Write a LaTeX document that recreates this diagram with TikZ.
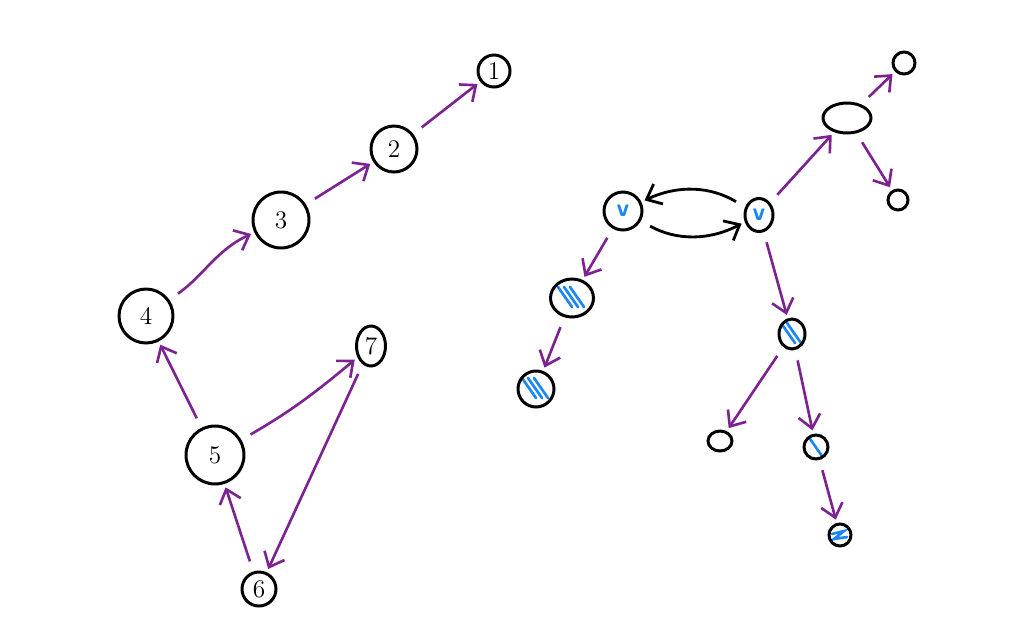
\documentclass[tikz,border=0pt]{standalone}
\usepackage{xcolor}
\usepackage{tikz}
\usetikzlibrary{positioning,arrows.meta,shapes.geometric}

\definecolor{inkpurple}{RGB}{125,35,145}
\definecolor{inkblue}{RGB}{25,135,245}

\begin{document}
\begin{tikzpicture}[
  x=0.02cm, y=-0.02cm,
  vertex/.style={circle, draw=black, line width=1.7pt, inner sep=0pt, font=\Large},
  oval/.style={vertex, ellipse},
  vlabel/.style={text=inkblue, font=\Large\bfseries\sffamily},
  hatched/.style={path picture={
      \foreach \d in {#1} {
        \draw[inkblue, line width=1.5pt, line cap=round]
          ([shift={(\d-8,-11)}]path picture bounding box.center) -- ++(14,20);
      }}},
  scribble/.style={path picture={
      \draw[inkblue, line width=1.5pt, line cap=round]
        ([shift={(-8,-1)}]path picture bounding box.center) -- ++(12,-3)
        -- ++(-10,8) -- ++(13,-2);}},
  edge/.style={-{Straight Barb[length=2.6mm, width=4.4mm]}, inkpurple,
    line width=1.5pt, shorten >=2pt, shorten <=6pt},
  link/.style={edge, draw=black, line width=1.6pt},
]
\useasboundingbox (0,0) rectangle (1024,640);

% left graph
\node[vertex, minimum size=6.4mm] (n1) at (494,71) {1};
\node[vertex, minimum size=9.2mm] (n2) at (394,149) {2};
\node[vertex, minimum size=11.2mm] (n3) at (281,220) {3};
\node[vertex, minimum size=10.8mm] (n4) at (146,316) {4};
\node[vertex, minimum size=11.6mm] (n5) at (215,455) {5};
\node[vertex, minimum size=6.8mm] (n6) at (259,589) {6};
\node[oval, minimum width=5.8mm, minimum height=8mm] (n7) at (371,346) {7};

% right graph
\node[vertex, minimum size=7.6mm, vlabel] (va) at (623,211) {v};
\node[oval, minimum width=5.6mm, minimum height=6.6mm, vlabel] (vb) at (759,215) {v};
\node[oval, minimum width=9.6mm, minimum height=6mm] (top) at (847,118) {};
\node[vertex, minimum size=4.4mm] (tr) at (904,63) {};
\node[vertex, minimum size=4mm] (br) at (898,200) {};
\node[oval, minimum width=8.6mm, minimum height=7.6mm, hatched={-6,0,6}] (h1) at (572,298) {};
\node[vertex, minimum size=7.2mm, hatched={-6,0,6}] (h2) at (536,389) {};
\node[oval, minimum width=5.2mm, minimum height=6mm, hatched={-3,3}] (h3) at (792,334) {};
\node[oval, minimum width=4.8mm, minimum height=4mm] (e1) at (720,441) {};
\node[vertex, minimum size=4.8mm, hatched={0}] (h4) at (816,447) {};
\node[vertex, minimum size=4.4mm, scribble] (h5) at (840,535) {};

% arrows: left graph
\draw[edge] (n4) to[out=35, in=205] (n3);
\draw[edge] (n3) -- (n2);
\draw[edge] (n2) -- (n1);
\draw[edge] (n5) -- (n4);
\draw[edge] (n5) to[out=30, in=220] (n7);
\draw[edge] (n6) -- (n5);
\draw[edge] (n7) -- (n6);

% arrows: right graph
\draw[link] (vb) to[bend right=28] (va);
\draw[link] (va) to[bend right=28] (vb);
\draw[edge] (vb) -- (top);
\draw[edge] (top) -- (tr);
\draw[edge] (top) -- (br);
\draw[edge] (va) -- (h1);
\draw[edge] (h1) -- (h2);
\draw[edge] (vb) -- (h3);
\draw[edge] (h3) -- (e1);
\draw[edge] (h3) -- (h4);
\draw[edge] (h4) -- (h5);

\end{tikzpicture}
\end{document}
